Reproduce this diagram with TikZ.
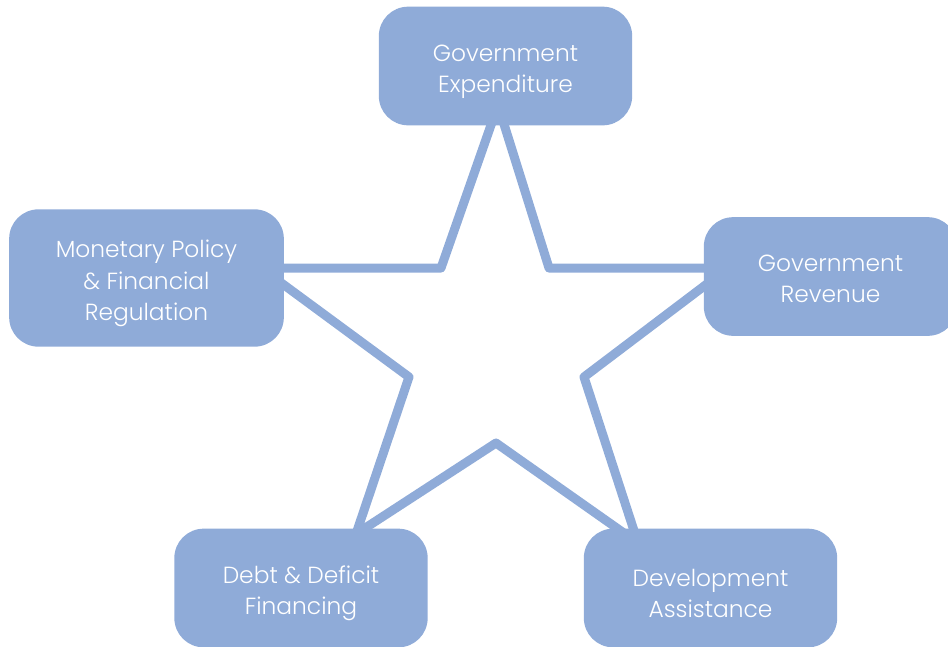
\documentclass[tikz,border=0pt]{standalone}
\usepackage{fontspec}
\setmainfont{Poppins}[UprightFont=* Light]
\newcommand\lift[1][21.5pt]{\rule{0pt}{#1}}

\definecolor{boxblue}{RGB}{143,171,216}

\begin{document}
\begin{tikzpicture}[x=0.75pt,y=-0.75pt,
                    starline/.style={draw=boxblue,line width=6.75pt,line join=round},
                    topic/.style={rectangle,rounded corners=22pt,fill=boxblue,text=white,
                      align=center,inner sep=0pt,minimum width=190pt,minimum height=89pt,
                      font=\fontsize{17.5}{23.5}\selectfont}]
  \path[use as bounding box,clip] (0,0) rectangle (948,646);

  % tips of the star (hidden under the boxes) and inner corners
  \coordinate (tipT)  at (498,105);
  \coordinate (tipL)  at (261,268);
  \coordinate (tipBL) at (356,534);
  \coordinate (tipBR) at (638,543);
  \coordinate (tipR)  at (728,268);
  \coordinate (inTL)  at (441,268);
  \coordinate (inL)   at (409,377);
  \coordinate (inB)   at (496,443);
  \coordinate (inR)   at (584,377);
  \coordinate (inTR)  at (549,268);

  \draw[starline] (tipT) -- (inTL) -- (tipL) -- (inL) -- (tipBL) -- (inB)
                  -- (tipBR) -- (inR) -- (tipR) -- (inTR) -- cycle;

  \node[topic] (exp) at (505.5,66)  {\lift Government\\Expenditure};
  \node[topic,minimum width=206pt,minimum height=103pt]
               (mon) at (146.5,278) {\lift Monetary Policy\\\& Financial\\Regulation};
  \node[topic] (rev) at (830.5,276.5) {\lift[16pt]Government\\Revenue};
  \node[topic] (debt) at (301,588)  {\lift Debt \& Deficit\\Financing};
  \node[topic] (dev) at (710.5,588) {\lift Development\\Assistance};
\end{tikzpicture}
\end{document}
